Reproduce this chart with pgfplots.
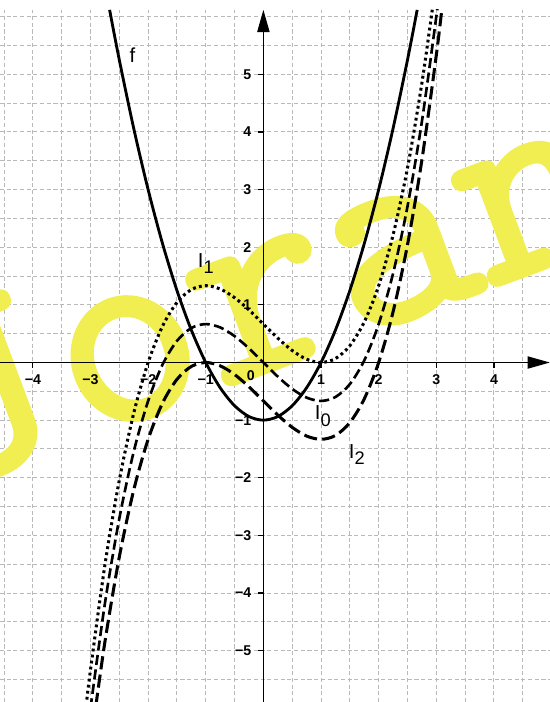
\documentclass[border=0pt]{standalone}
\usepackage{fontspec}
\setmainfont{Liberation Sans}
\newfontfamily\wmfont[FakeBold=1.8]{lmmono10-regular.otf}
\usepackage{pgfplots}
\pgfplotsset{compat=1.18}
\usetikzlibrary{arrows.meta}
\definecolor{wmyellow}{RGB}{241,238,82}

\begin{document}
\begin{tikzpicture}
\begin{axis}[
    name=ax,
    set layers=standard,
    width=9.54cm, height=12.01cm, scale only axis,
    xmin=-4.57, xmax=4.97, ymin=-5.89, ymax=6.12,
    axis lines=middle,
    axis line style={line width=0.8pt, -{Triangle[length=11pt,width=6pt]}},
    xtick={-4,-3,-2,-1,1,2,3,4},
    xticklabels={−4,−3,−2,−1,1,2,3,4},
    ytick={-5,-4,-3,-2,-1,1,2,3,4,5},
    yticklabels={−5,−4,−3,−2,−1,1,2,3,4,5},
    minor xtick={-4.5,-3.5,-2.5,-1.5,-0.5,0.5,1.5,2.5,3.5,4.5},
    minor ytick={-5.5,-4.5,-3.5,-2.5,-1.5,-0.5,0.5,1.5,2.5,3.5,4.5,5.5,6},
    grid=both,
    grid style={gray!55, line width=0.5pt, dash pattern=on 2pt off 1.3pt},
    minor tick length=0pt,
    major tick length=2.5pt,
    tick align=outside,
    tick style={black, line width=0.6pt},
    ticklabel style={font=\fontsize{7}{8}\selectfont\bfseries},
    clip=true,
]
% f
\addplot[black, line width=1.4pt, smooth] coordinates {
    (-2.668,6.118) (-2.5,5.25) (-2.25,4.0625) (-2,3) (-1.75,2.0625) (-1.5,1.25)
    (-1.25,0.5625) (-1,0) (-0.75,-0.4375) (-0.5,-0.75) (-0.25,-0.9375) (0,-1)
    (0.25,-0.9375) (0.5,-0.75) (0.75,-0.4375) (1,0) (1.25,0.5625) (1.5,1.25)
    (1.75,2.0625) (2,3) (2.25,4.0625) (2.5,5.25) (2.668,6.118)
};
% I_1
\addplot[black, line width=1.5pt, smooth, dash pattern=on 1.4pt off 1.6pt] coordinates {
    (-3.1,-6.163) (-3,-5.333) (-2.75,-3.515) (-2.5,-2.042) (-2.25,-0.880) (-2,0)
    (-1.75,0.631) (-1.5,1.042) (-1.25,1.266) (-1,1.333) (-0.75,1.276) (-0.5,1.125)
    (-0.25,0.912) (0,0.667) (0.25,0.422) (0.5,0.208) (0.75,0.057) (1,0)
    (1.25,0.068) (1.5,0.292) (1.75,0.703) (2,1.333) (2.25,2.214) (2.5,3.375)
    (2.75,4.849) (2.93,6.121)
};
% I_0
\addplot[black, line width=1.3pt, smooth, dash pattern=on 5pt off 2.2pt] coordinates {
    (-3,-6) (-2.75,-4.182) (-2.5,-2.708) (-2.25,-1.547) (-2,-0.667) (-1.75,-0.036)
    (-1.5,0.375) (-1.25,0.599) (-1,0.667) (-0.75,0.609) (-0.5,0.458) (-0.25,0.245)
    (0,0) (0.25,-0.245) (0.5,-0.458) (0.75,-0.609) (1,-0.667) (1.25,-0.599)
    (1.5,-0.375) (1.75,0.036) (2,0.667) (2.25,1.547) (2.5,2.708) (2.75,4.182)
    (3,6) (3.015,6.12)
};
% I_2
\addplot[black, line width=1.5pt, smooth, dash pattern=on 6.5pt off 2.6pt] coordinates {
    (-2.95,-6.274) (-2.75,-4.849) (-2.5,-3.375) (-2.25,-2.214) (-2,-1.333) (-1.75,-0.703)
    (-1.5,-0.292) (-1.25,-0.068) (-1,0) (-0.75,-0.057) (-0.5,-0.208) (-0.25,-0.422)
    (0,-0.667) (0.25,-0.912) (0.5,-1.125) (0.75,-1.276) (1,-1.333) (1.25,-1.266)
    (1.5,-1.042) (1.75,-0.631) (2,0) (2.25,0.880) (2.5,2.042) (2.75,3.515)
    (3,5.333) (3.095,6.12)
};
\node[font=\fontsize{7}{8}\selectfont\bfseries] at (axis cs:-0.22,-0.23) {0};
\node[font=\fontsize{10}{12}\selectfont] at (axis cs:-2.27,5.34) {f};
\node[font=\fontsize{10}{12}\selectfont] at (axis cs:-1.0,1.72) {I\raisebox{-3pt}{\fontsize{9}{10}\selectfont 1}};
\node[font=\fontsize{10}{12}\selectfont] at (axis cs:1.03,-0.93) {I\raisebox{-3pt}{\fontsize{9}{10}\selectfont 0}};
\node[font=\fontsize{10}{12}\selectfont] at (axis cs:1.62,-1.59) {I\raisebox{-3pt}{\fontsize{9}{10}\selectfont 2}};
% watermark: above the grid, below axis lines and curves
\begin{pgfonlayer}{axis ticks}
\node[anchor=base west, inner sep=0pt, rotate=20.5, text=wmyellow,
      font=\wmfont\fontsize{136}{136}\selectfont] at (axis cs:-5.61,-2.27) {J\kern0.03em oran};
\end{pgfonlayer}
\coordinate (bbsw) at (axis cs:-4.57,-5.89);
\coordinate (bbne) at (axis cs:4.97,6.29);
\end{axis}
\pgfresetboundingbox
\path[use as bounding box] (bbsw) rectangle (bbne);
\end{tikzpicture}
\end{document}
